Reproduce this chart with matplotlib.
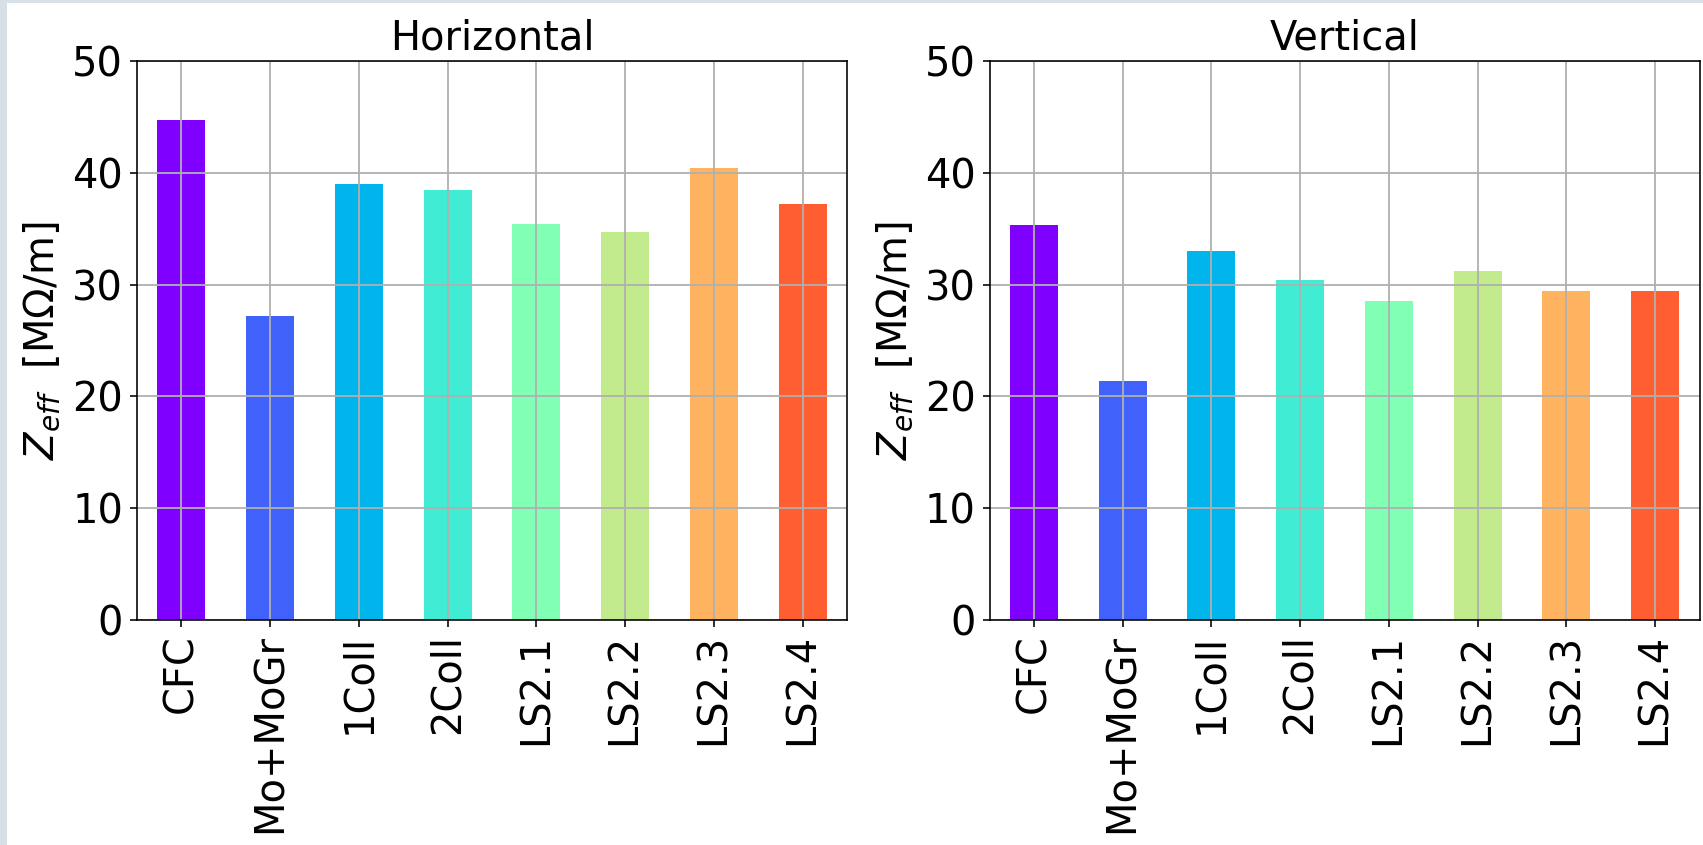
import numpy as np
import matplotlib
matplotlib.use("Agg")
import matplotlib.pyplot as plt
from matplotlib.patches import Rectangle

# Effective impedance per collimator configuration
categories = ["CFC", "Mo+MoGr", "1Coll", "2Coll", "LS2.1", "LS2.2", "LS2.3", "LS2.4"]
z_horizontal = [44.75, 27.2, 39.0, 38.45, 35.4, 34.7, 40.4, 37.2]
z_vertical = [35.3, 21.4, 33.0, 30.45, 28.5, 31.2, 29.4, 29.4]
panel_titles = ["Horizontal", "Vertical"]
y_ticks = [0, 10, 20, 30, 40, 50]

DPI = 144
fig = plt.figure(figsize=(1703 / DPI, 845 / DPI), dpi=DPI, facecolor="#d8e0e7")
# white canvas inset from the surrounding frame
fig.patches.append(Rectangle((7 / 1703, 0), 1, 1 - 3 / 845, transform=fig.transFigure,
                             facecolor="white", edgecolor="none", zorder=-1))

colors = plt.cm.rainbow(np.arange(len(categories)) / len(categories))

bottom = 1 - 620 / 845
height = (620 - 61) / 845
lefts = [137 / 1703, 989.5 / 1703]
width = 710 / 1703

for left, title, values in zip(lefts, panel_titles, [z_horizontal, z_vertical]):
    ax = fig.add_axes([left, bottom, width, height])
    x = np.arange(len(categories))
    ax.bar(x, values, width=0.54, color=colors)
    ax.set_xlim(-0.5, len(categories) - 0.5)
    ax.set_ylim(0, 50)
    ax.set_yticks(y_ticks)
    ax.set_xticks(x)
    ax.set_xticklabels(categories, rotation=90)
    ax.tick_params(labelsize=20)
    ax.grid(True, color="#b0b0b0", linewidth=0.9)
    ax.set_title(title, fontsize=20)
    ax.set_ylabel(r"$Z_{eff}$  [M$\Omega$/m]", fontsize=20)
    ax.yaxis.set_label_coords(-0.105, 0.5)

fig.savefig("out.png", dpi=DPI, facecolor=fig.get_facecolor())
